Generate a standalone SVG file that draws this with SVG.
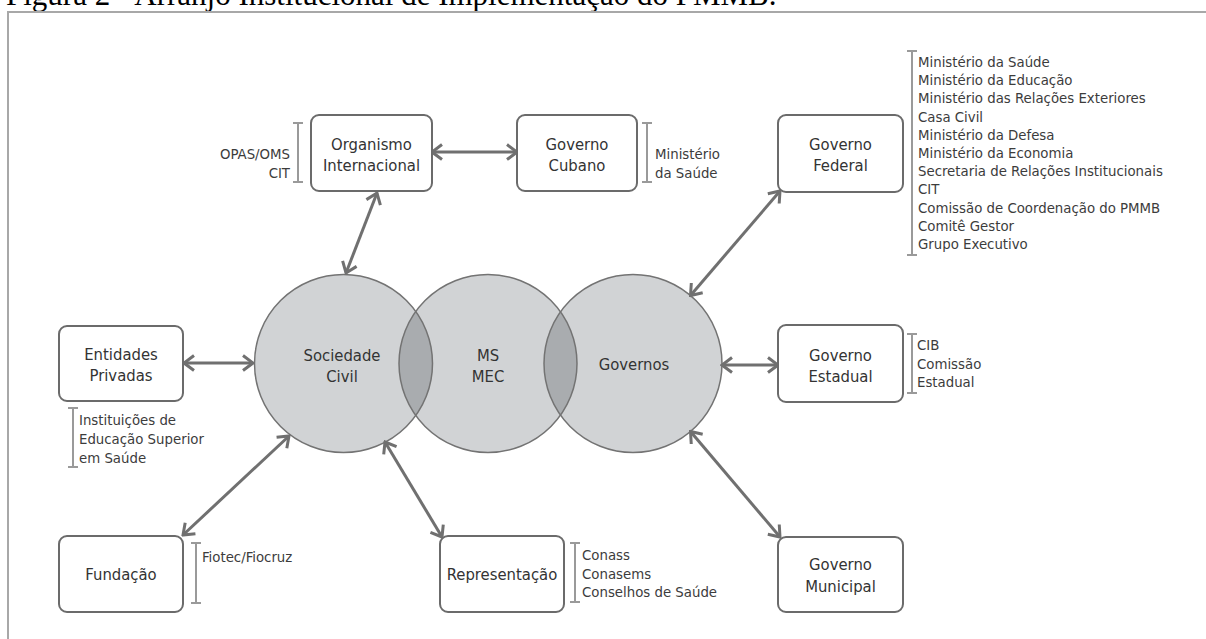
<svg xmlns="http://www.w3.org/2000/svg" width="1206" height="639" viewBox="0 0 1206 639">
<style>
.box{fill:#ffffff;stroke:#6b6b6b;stroke-width:2}
.bt{font-family:"DejaVu Sans Condensed","DejaVu Sans",sans-serif;font-stretch:condensed;font-size:16.5px;fill:#333;text-anchor:middle}
.lt{font-family:"DejaVu Sans Condensed","DejaVu Sans",sans-serif;font-stretch:condensed;font-size:14.8px;fill:#3c3c3c}
.br{stroke:#9a9a9a;stroke-width:2;fill:none}
.con{stroke:#707070;stroke-width:3;fill:none;marker-start:url(#ah);marker-end:url(#ah)}
.circ{fill:#d1d3d5}
.lens{fill:#a9acaf}
.cs{fill:none;stroke:#737373;stroke-width:1.5}
</style>
<defs>
<marker id="ah" viewBox="-12 -9 14 18" refX="0" refY="0" markerWidth="14" markerHeight="18" markerUnits="userSpaceOnUse" orient="auto-start-reverse">
<path d="M -10 -7.5 L 0 0 L -10 7.5" fill="none" stroke="#707070" stroke-width="3" stroke-linejoin="miter"/>
</marker>
<clipPath id="cA"><circle cx="343.5" cy="363.5" r="89"/></clipPath>
<clipPath id="cC"><circle cx="633" cy="363.5" r="89"/></clipPath>
</defs>
<rect width="1206" height="639" fill="#ffffff"/>
<text x="6" y="5" font-family="Liberation Serif, serif" font-size="31" fill="#000">Figura 2 - Arranjo Institucional de Implementação do PMMB.</text>
<rect x="8" y="12" width="1210" height="640" fill="none" stroke="#a8a8a8" stroke-width="2"/>

<g id="circles">
<g id="sociedade-civil">
<circle class="circ" cx="343.5" cy="363.5" r="89"/>
</g>
<g id="ms-mec">
<circle class="circ" cx="488" cy="363.5" r="89"/>
</g>
<g id="governos">
<circle class="circ" cx="633" cy="363.5" r="89"/>
</g>
<circle class="lens" cx="488" cy="363.5" r="89" clip-path="url(#cA)"/>
<circle class="lens" cx="488" cy="363.5" r="89" clip-path="url(#cC)"/>
<circle class="cs" cx="343.5" cy="363.5" r="89"/>
<circle class="cs" cx="488" cy="363.5" r="89"/>
<circle class="cs" cx="633" cy="363.5" r="89"/>
<text class="bt" x="342" y="361">Sociedade</text>
<text class="bt" x="342" y="382">Civil</text>
<text class="bt" x="488" y="361">MS</text>
<text class="bt" x="488" y="382">MEC</text>
<text class="bt" x="634" y="370">Governos</text>
</g>

<g id="connectors">
<line class="con" x1="432" y1="152" x2="517" y2="152"/>
<line class="con" x1="377" y1="193" x2="346" y2="273"/>
<line class="con" x1="184" y1="363" x2="253" y2="363"/>
<line class="con" x1="289" y1="436" x2="183" y2="535"/>
<line class="con" x1="385" y1="442" x2="442" y2="537"/>
<line class="con" x1="690.5" y1="295.5" x2="780" y2="191"/>
<line class="con" x1="722" y1="365" x2="778" y2="365"/>
<line class="con" x1="690.5" y1="431.5" x2="780" y2="537"/>
</g>

<g id="organismo-internacional">
<rect class="box" x="311" y="115" width="121" height="76" rx="8"/>
<text class="bt" x="371.5" y="150">Organismo</text>
<text class="bt" x="371.5" y="171">Internacional</text>
<path class="br" d="M298 123 V182 M293 123 H303 M293 182 H303"/>
<text class="lt" x="290" y="159" text-anchor="end">OPAS/OMS</text>
<text class="lt" x="290" y="178" text-anchor="end">CIT</text>
</g>

<g id="governo-cubano">
<rect class="box" x="517" y="115" width="120" height="76" rx="8"/>
<text class="bt" x="577" y="150">Governo</text>
<text class="bt" x="577" y="171">Cubano</text>
<path class="br" d="M647 123 V182 M642 123 H652 M642 182 H652"/>
<text class="lt" x="655" y="159">Ministério</text>
<text class="lt" x="655" y="178">da Saúde</text>
</g>

<g id="governo-federal">
<rect class="box" x="778" y="115" width="125" height="77" rx="8"/>
<text class="bt" x="840.5" y="150">Governo</text>
<text class="bt" x="840.5" y="171">Federal</text>
<path class="br" d="M912 51 V255 M907 51 H917 M907 255 H917"/>
<text class="lt" x="918" y="67">Ministério da Saúde</text>
<text class="lt" x="918" y="85.2">Ministério da Educação</text>
<text class="lt" x="918" y="103.4">Ministério das Relações Exteriores</text>
<text class="lt" x="918" y="121.6">Casa Civil</text>
<text class="lt" x="918" y="139.8">Ministério da Defesa</text>
<text class="lt" x="918" y="158">Ministério da Economia</text>
<text class="lt" x="918" y="176.2">Secretaria de Relações Institucionais</text>
<text class="lt" x="918" y="194.4">CIT</text>
<text class="lt" x="918" y="212.6">Comissão de Coordenação do PMMB</text>
<text class="lt" x="918" y="230.8">Comitê Gestor</text>
<text class="lt" x="918" y="249">Grupo Executivo</text>
</g>

<g id="entidades-privadas">
<rect class="box" x="59" y="326" width="124" height="75" rx="8"/>
<text class="bt" x="121" y="360">Entidades</text>
<text class="bt" x="121" y="381">Privadas</text>
<path class="br" d="M73 408 V467 M68 408 H78 M68 467 H78"/>
<text class="lt" x="79" y="425">Instituições de</text>
<text class="lt" x="79" y="444">Educação Superior</text>
<text class="lt" x="79" y="463">em Saúde</text>
</g>

<g id="governo-estadual">
<rect class="box" x="778" y="325" width="125" height="77" rx="8"/>
<text class="bt" x="840.5" y="361">Governo</text>
<text class="bt" x="840.5" y="382">Estadual</text>
<path class="br" d="M912 334 V393 M907 334 H917 M907 393 H917"/>
<text class="lt" x="917" y="350">CIB</text>
<text class="lt" x="917" y="368.5">Comissão</text>
<text class="lt" x="917" y="387">Estadual</text>
</g>

<g id="fundacao">
<rect class="box" x="59" y="536" width="124" height="76" rx="8"/>
<text class="bt" x="121" y="580">Fundação</text>
<path class="br" d="M196 543 V603 M191 543 H201 M191 603 H201"/>
<text class="lt" x="202" y="562">Fiotec/Fiocruz</text>
</g>

<g id="representacao">
<rect class="box" x="440" y="536" width="124" height="76" rx="8"/>
<text class="bt" x="502" y="580">Representação</text>
<path class="br" d="M575 543 V602 M570 543 H580 M570 602 H580"/>
<text class="lt" x="582" y="560">Conass</text>
<text class="lt" x="582" y="578.5">Conasems</text>
<text class="lt" x="582" y="597">Conselhos de Saúde</text>
</g>

<g id="governo-municipal">
<rect class="box" x="778" y="537" width="125" height="75" rx="8"/>
<text class="bt" x="840.5" y="570">Governo</text>
<text class="bt" x="840.5" y="592">Municipal</text>
</g>
</svg>
